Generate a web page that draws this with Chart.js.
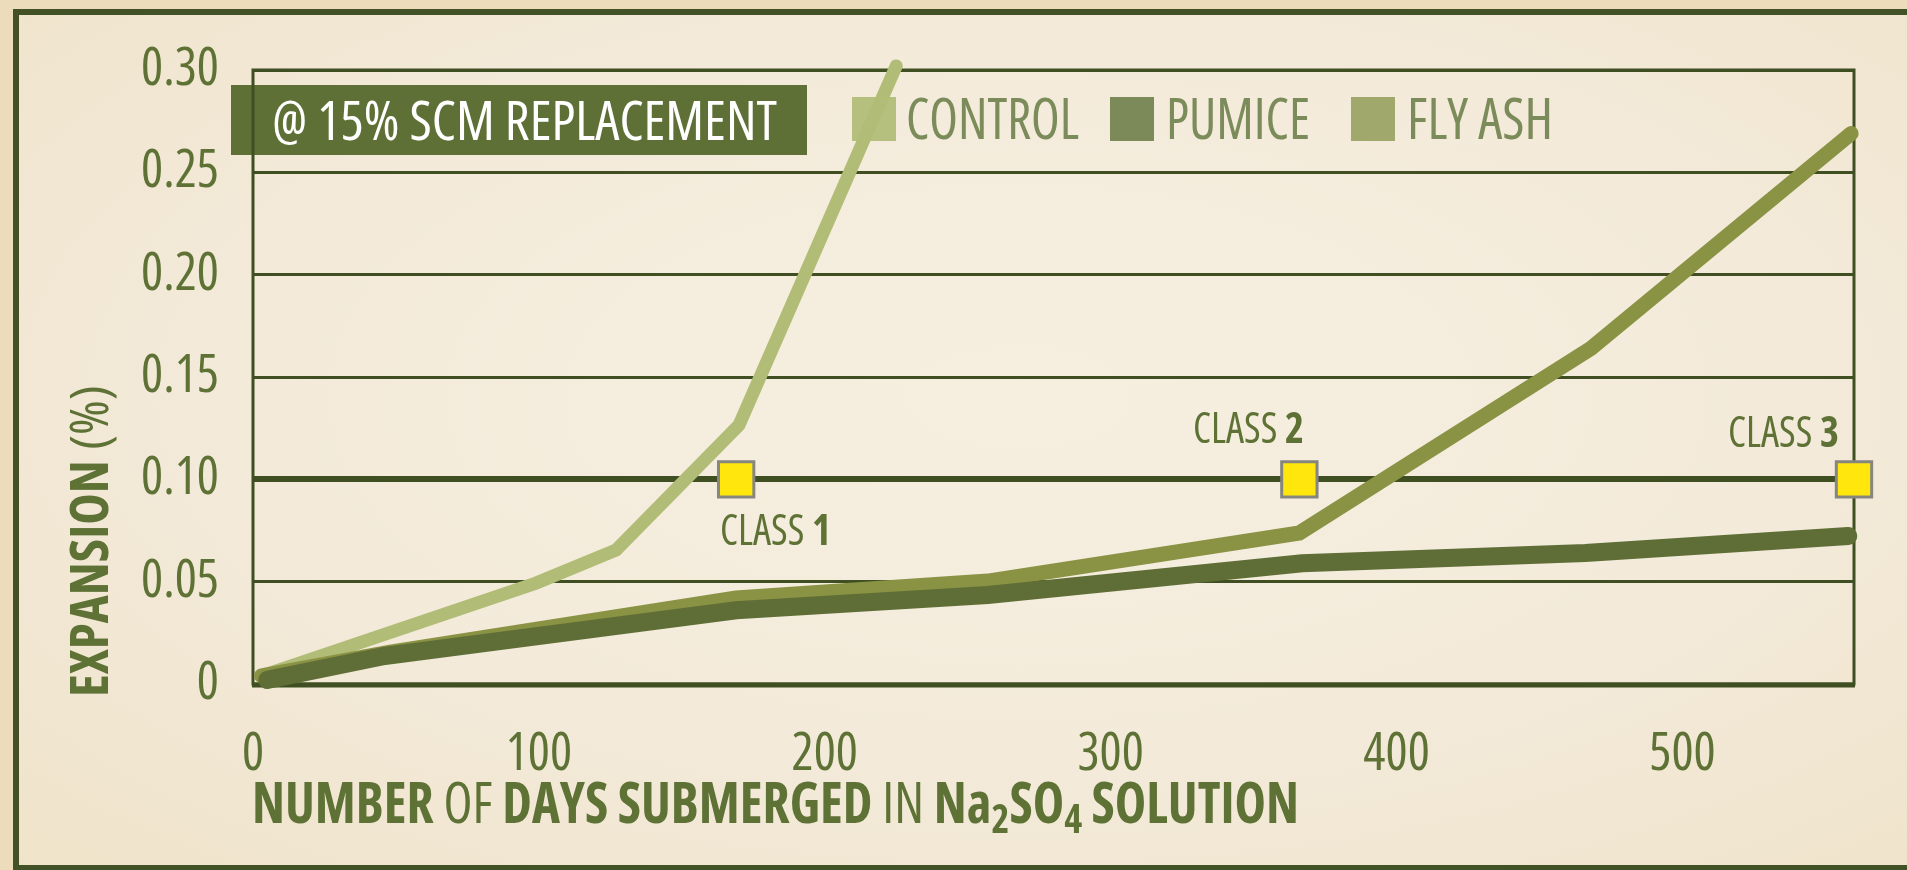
<!DOCTYPE html>
<html>
<head>
<meta charset="utf-8">
<title>Expansion vs days submerged in Na2SO4</title>
<script src="https://cdn.jsdelivr.net/npm/chart.js@4.4.1/dist/chart.umd.min.js"></script>
<style>
  html, body { margin: 0; padding: 0; }
  body {
    width: 1907px; height: 870px; overflow: hidden; position: relative;
    background: #ecdcbb;
    font-family: 'Open Sans', 'DejaVu Sans Condensed', sans-serif;
    font-stretch: 75%;
    color: #5f7236;
  }
  #frame {
    position: absolute; left: 13px; top: 9px; width: 2000px; height: 850px;
    border: 6px solid #435126;
    background: radial-gradient(ellipse at 50% 45%, #f6efdf 0%, #f3eada 55%, #efe3c9 100%);
  }
  #wrap { position: absolute; left: 0; top: 0; width: 1907px; height: 870px; }
  .txt { position: absolute; white-space: nowrap; transform-origin: left top; font-stretch: 75%; }
  .b { font-weight: bold; }
  #banner { position: absolute; left: 231px; top: 85px; width: 576px; height: 70px; background: #5f7036; }
  .sw { position: absolute; top: 97px; width: 44px; height: 44px; }
</style>
</head>
<body>
<div id="frame"></div>
<div id="banner"></div>
<div class="sw" style="left:852px; background:#b5c07f;"></div>
<div class="sw" style="left:1110px; background:#7c8a5a;"></div>
<div class="sw" style="left:1351px; background:#a0a86b;"></div>
<div id="wrap"><canvas id="chart"></canvas></div>

<div class="txt" id="bannerText" style="color:#fff;">@ 15% SCM REPLACEMENT</div>
<div class="txt" id="legControl" style="color:#7c8b5a;">CONTROL</div>
<div class="txt" id="legPumice" style="color:#7c8b5a;">PUMICE</div>
<div class="txt" id="legFlyAsh" style="color:#7c8b5a;">FLY ASH</div>
<div class="txt" id="xTitle"><span class="b">NUMBER</span> OF <span class="b">DAYS SUBMERGED</span> IN <span class="b">Na<span style="font-size:0.72em; vertical-align:-0.25em;">2</span>SO<span style="font-size:0.72em; vertical-align:-0.25em;">4</span> SOLUTION</span></div>
<div class="txt" id="yTitle"><span class="b">EXPANSION</span> (%)</div>

<script>
// expansion readings, days submerged in Na2SO4 solution
const controlDays = [3, 99, 127, 170, 225];
const controlExpansion = [0.004, 0.0493, 0.0655, 0.1265, 0.302];

const pumiceDays = [5, 46, 169, 257, 367, 466, 558];
const pumiceExpansion = [0.002, 0.0137, 0.036, 0.0435, 0.059, 0.064, 0.0723];

const flyAshDays = [3, 48, 169, 257, 366, 468, 559];
const flyAshExpansion = [0.004, 0.0156, 0.042, 0.0503, 0.0738, 0.164, 0.269];

// sulfate exposure class limits
const classLimit = 0.10;
const classDays = [169, 366, 560];
const classNames = ['1', '2', '3'];

const xMin = 0, xMax = 560, xStep = 100;
const yMin = 0, yMax = 0.30, yStep = 0.05;

const FAMILY = "'Open Sans', 'DejaVu Sans Condensed', sans-serif";
const gridColor = '#3f4f22';
const labelColor = '#5f7236';

const mctx = document.createElement('canvas').getContext('2d');

function metrics(ch) {
  mctx.font = `normal condensed 100px ${FAMILY}`;
  const m = mctx.measureText(ch);
  return {
    cap: m.actualBoundingBoxAscent / 100,
    asc: m.fontBoundingBoxAscent / 100,
    desc: m.fontBoundingBoxDescent / 100
  };
}

// size text so the caps are capH tall, squeeze to width
function placeText(id, left, capTop, capH, width, alignRight) {
  const el = document.getElementById(id);
  const m = metrics('H');
  const fs = capH / m.cap;
  el.style.fontSize = fs + 'px';
  el.style.lineHeight = fs + 'px';
  const capOffset = (m.asc + (1 - m.asc - m.desc) / 2 - m.cap) * fs;
  const w = el.getBoundingClientRect().width;
  el.style.left = (alignRight ? left - width : left) + 'px';
  el.style.top = (capTop - capOffset) + 'px';
  el.style.transform = `scaleX(${width / w})`;
}

function placeVertical(id, capLeft, bottom, capH, length) {
  const el = document.getElementById(id);
  const m = metrics('H');
  const fs = capH / m.cap;
  el.style.fontSize = fs + 'px';
  el.style.lineHeight = fs + 'px';
  const capOffset = (m.asc + (1 - m.asc - m.desc) / 2 - m.cap) * fs;
  const w = el.getBoundingClientRect().width;
  el.style.left = (capLeft - capOffset) + 'px';
  el.style.top = bottom + 'px';
  el.style.transform = `rotate(-90deg) scaleX(${length / w})`;
}

const tickSize = 38 / metrics('0').cap;

function points(xs, ys) {
  return xs.map((x, i) => ({ x: x, y: ys[i] }));
}

const plotFrame = {
  id: 'plotFrame',
  beforeDraw(chart) {
    chart.ctx.fontStretch = 'condensed';
  },
  beforeDatasetsDraw(chart) {
    const { ctx, chartArea: a } = chart;
    ctx.save();
    ctx.strokeStyle = gridColor;
    ctx.lineWidth = 3;
    ctx.strokeRect(a.left, a.top, a.right - a.left, a.bottom - a.top);
    ctx.lineWidth = 5;
    ctx.beginPath();
    ctx.moveTo(a.left - 1, a.bottom + 1);
    ctx.lineTo(a.right + 1, a.bottom + 1);
    ctx.stroke();
    ctx.restore();
  }
};

const lineStyle = {
  pointRadius: 0,
  tension: 0,
  borderCapStyle: 'round',
  borderJoinStyle: 'miter',
  clip: false,
  fill: false
};

const tickFont = { family: FAMILY, size: tickSize, weight: 'condensed' };

const chart = new Chart(document.getElementById('chart'), {
  type: 'line',
  data: {
    datasets: [
      {
        label: 'CLASS',
        data: classDays.map(d => ({ x: d, y: classLimit })),
        showLine: false,
        pointStyle: 'rect',
        pointRadius: 25,
        pointBackgroundColor: '#ffe70d',
        pointBorderColor: '#86867f',
        pointBorderWidth: 3,
        clip: false,
        order: 0
      },
      Object.assign({
        label: 'PUMICE',
        data: points(pumiceDays, pumiceExpansion),
        borderColor: '#5e6e36',
        borderWidth: 18,
        order: 1
      }, lineStyle),
      Object.assign({
        label: 'FLY ASH',
        data: points(flyAshDays, flyAshExpansion),
        borderColor: '#8a9244',
        borderWidth: 15,
        order: 2
      }, lineStyle),
      Object.assign({
        label: 'CONTROL',
        data: points(controlDays, controlExpansion),
        borderColor: '#b1bd76',
        borderWidth: 13,
        order: 3
      }, lineStyle)
    ]
  },
  options: {
    responsive: true,
    maintainAspectRatio: false,
    animation: false,
    events: [],
    layout: { padding: { left: 0, top: 70, right: 53, bottom: 0 } },
    plugins: {
      legend: { display: false },
      tooltip: { enabled: false }
    },
    scales: {
      x: {
        type: 'linear',
        min: xMin,
        max: xMax,
        afterFit: s => { s.height = 186; },
        grid: { display: false },
        border: { display: false },
        ticks: {
          stepSize: xStep,
          includeBounds: false,
          maxRotation: 0,
          autoSkip: false,
          padding: 32,
          color: labelColor,
          font: tickFont
        }
      },
      y: {
        min: yMin,
        max: yMax,
        afterFit: s => { s.width = 253; },
        border: { display: false },
        grid: {
          color: gridColor,
          drawTicks: false,
          lineWidth: c => (c.tick && Math.abs(c.tick.value - classLimit) < 1e-9) ? 6 : 3
        },
        ticks: {
          stepSize: yStep,
          padding: 34,
          color: labelColor,
          font: tickFont,
          callback: v => v === 0 ? '0' : v.toFixed(2)
        }
      }
    }
  },
  plugins: [plotFrame]
});

// class labels next to the markers
const xs = chart.scales.x, ys = chart.scales.y;
const classOffsets = [
  { dx: -16, dy: 35, right: false },
  { dx: 5, dy: -67, right: true },
  { dx: -15, dy: -63, right: true }
];
classDays.forEach((d, i) => {
  const el = document.createElement('div');
  el.className = 'txt';
  el.id = 'classLabel' + i;
  el.innerHTML = 'CLASS <span class="b">' + classNames[i] + '</span>';
  document.body.appendChild(el);
  const cx = xs.getPixelForValue(d), cy = ys.getPixelForValue(classLimit);
  const o = classOffsets[i];
  placeText(el.id, cx + o.dx, cy + o.dy, 31, 111, o.right);
});

placeText('bannerText', 272, 100, 40, 505);
placeText('legControl', 906, 99, 41, 173);
placeText('legPumice', 1166, 99, 41, 144);
placeText('legFlyAsh', 1407, 99, 41, 146);
placeText('xTitle', 252, 783, 41, 1047);
placeVertical('yTitle', 71, 697, 38, 312);
</script>
</body>
</html>
